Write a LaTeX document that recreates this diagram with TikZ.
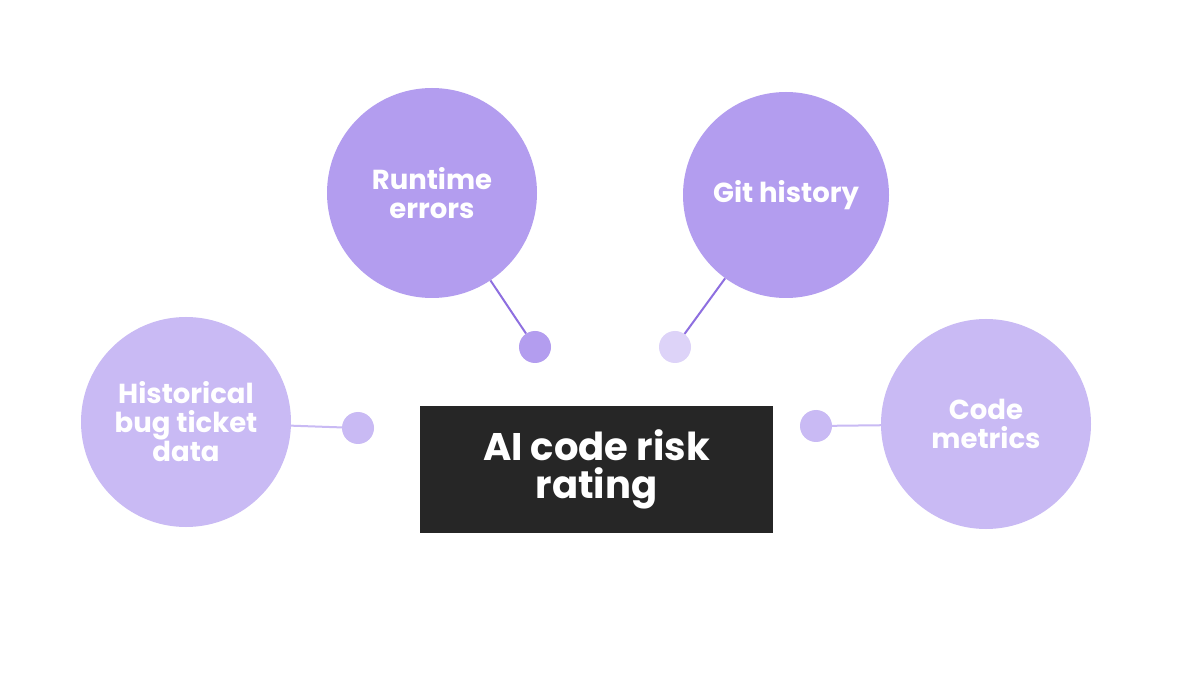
\documentclass[tikz,border=0pt]{standalone}
\usepackage{fontspec}
\setmainfont{Poppins}
\definecolor{cdark}{HTML}{B39DEF}
\definecolor{clight}{HTML}{C9BAF4}
\definecolor{cpale}{HTML}{DDD3F8}
\definecolor{cline}{HTML}{8E6FE0}
\definecolor{cbox}{HTML}{262626}
\begin{document}
\begin{tikzpicture}[x=1pt,y=-1pt,
  bub/.style={circle,minimum size=210pt,inner sep=0pt,text=white,align=center,font=\fontsize{27.5}{29}\selectfont\bfseries},
  dot/.style={circle,minimum size=32pt,inner sep=0pt},
  conn/.style={line width=2pt}]
\useasboundingbox (0,0) rectangle (1200,700);
\fill[white] (0,0) rectangle (1200,700);
\node[bub,fill=cdark,minimum size=210pt] (rt) at (432,193) {Runtime\\errors};
\node[bub,fill=cdark,minimum size=206pt] (git) at (786,195) {Git history};
\node[bub,fill=clight] (hist) at (186,422) {Historical\\bug ticket\\data};
\node[bub,fill=clight] (cm) at (986,424) {Code\\metrics};
\node[dot,fill=cdark] (d1) at (535,347) {};
\node[dot,fill=cpale] (d2) at (675,347) {};
\node[dot,fill=clight] (d3) at (358,428) {};
\node[dot,fill=clight] (d4) at (816,426) {};
\draw[conn,cline] (rt) -- (d1);
\draw[conn,cline] (git) -- (d2);
\draw[conn,clight] (hist) -- (d3);
\draw[conn,clight] (cm) -- (d4);
\node[fill=cbox,minimum width=353pt,minimum height=127pt,text=white,align=center,font=\fontsize{38.5}{38}\selectfont\bfseries] (box) at (596.5,469.5) {AI code risk\\rating};
\end{tikzpicture}
\end{document}
